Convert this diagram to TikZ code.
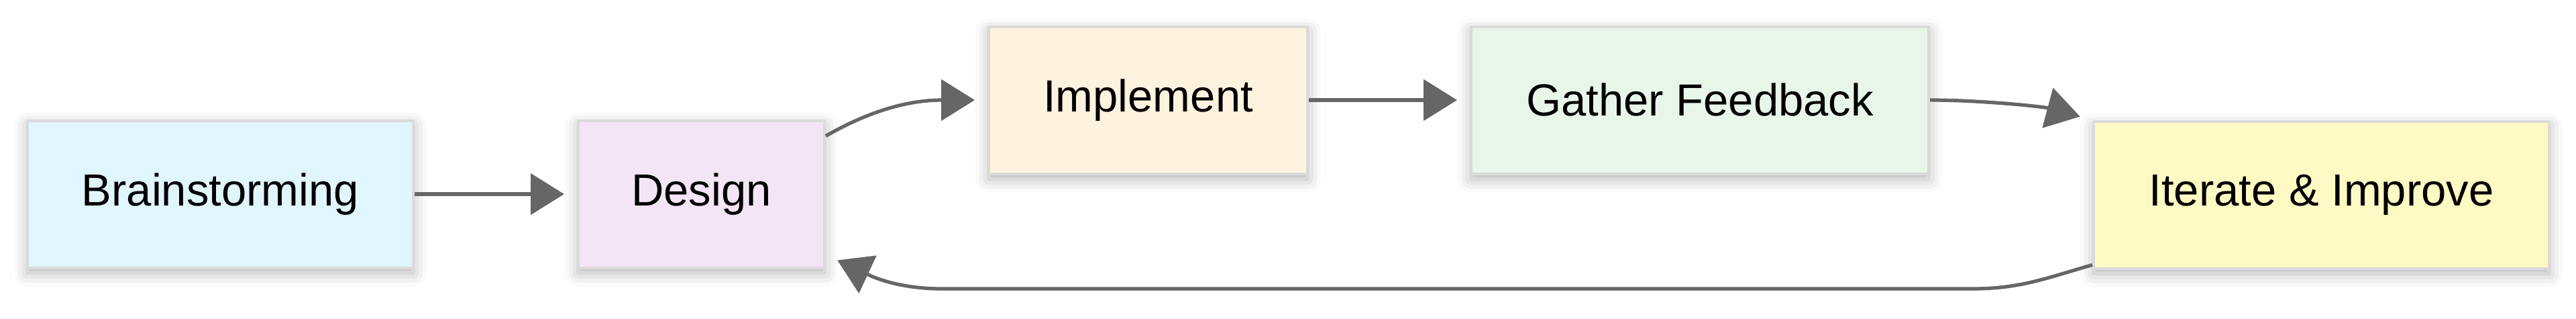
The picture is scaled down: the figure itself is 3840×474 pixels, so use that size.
\documentclass[tikz,border=0pt]{standalone}
\usepackage{fontspec}
\setmainfont{Liberation Sans}
\usetikzlibrary{arrows.meta,shadows.blur}
\definecolor{edgegray}{HTML}{666666}
\definecolor{boxline}{HTML}{DADADA}
\definecolor{brainfill}{HTML}{E1F5FE}
\definecolor{designfill}{HTML}{F3E5F5}
\definecolor{implfill}{HTML}{FFF3E0}
\definecolor{gatherfill}{HTML}{E8F5E9}
\definecolor{iterfill}{HTML}{FFF9C4}
\begin{document}
\begin{tikzpicture}[x=0.25pt,y=-0.25pt,
	stage/.style={draw=boxline,line width=1pt,minimum height=54.75pt,inner sep=0pt,
		font=\fontsize{16.75}{20}\selectfont,
		blur shadow={shadow xshift=0pt,shadow yshift=-2pt,shadow blur radius=5pt,shadow opacity=30}},
	flow/.style={draw=edgegray,line width=1.3pt,-{Triangle[length=12.5pt,width=15.25pt]},shorten >=4.75pt}]
\useasboundingbox (0,0) rectangle (3840,474);
\node (brain) [stage,fill=brainfill,minimum width=143.75pt] at (328.5,289) {Brainstorming};
\node (design) [stage,fill=designfill,minimum width=91.75pt] at (1045.5,289) {Design};
\node (impl) [stage,fill=implfill,minimum width=118.75pt] at (1711.5,149) {Implement};
\node (gather) [stage,fill=gatherfill,minimum width=170.5pt] at (2534,149) {Gather Feedback};
\node (iter) [stage,fill=iterfill,minimum width=169.75pt] at (3460.5,290) {Iterate \& Improve};
\draw [flow] (brain) -- (design);
\draw [flow] (design.25) to[out=30,in=180] (impl.west);
\draw [flow] (impl) -- (gather);
\draw [flow] (gather.east) to[out=0,in=165,looseness=0.8] (iter.north west);
% loop back
\coordinate (loopR) at (2940,430);
\coordinate (loopL) at (1405,430);
\draw [flow] (iter.197) to[out=196,in=0] (loopR) -- (loopL) to[out=180,in=-25] (design.-26);
\end{tikzpicture}
\end{document}
